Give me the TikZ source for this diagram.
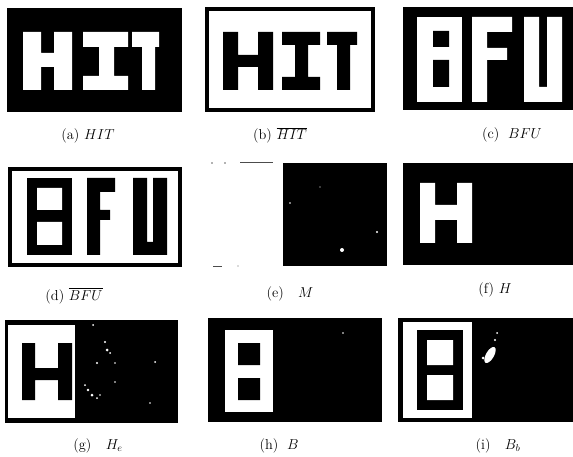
\documentclass[tikz,border=0pt]{standalone}
\usepackage{amsmath,amssymb}
\usepackage{tikz}
\usetikzlibrary{positioning}

\begin{document}
\begin{tikzpicture}[x=1pt,y=-1pt,
    ink/.style={fill=black},
    paper/.style={fill=white},
    frame/.style={draw=black, line width=3.5pt, fill=white},
    speck/.style={fill=white},
    caption/.style={font=\Large, inner sep=0pt, anchor=base}
  ]
  \useasboundingbox[fill=white] (0,0) rectangle (573,457);

  % (a) HIT, white on black
  \fill[ink] (7,8) rectangle (182,112);
  \fill[paper] (23,32) rectangle (41,90) (54,32) rectangle (72,90) (41,53) rectangle (54,67);
  \fill[paper] (83,32) rectangle (128,47) (83,76) rectangle (128,90) (99,47) rectangle (114,76);
  \fill[paper] (132,32) rectangle (159,47) (142,47) rectangle (155,90);
  \node[caption] (capa) at (88,140) {(a) $HIT$};

  % (b) complement of HIT
  \draw[frame] (207,9) rectangle (373,110);
  \fill[ink] (223,32) rectangle (238,90) (258,32) rectangle (273,90) (238,55) rectangle (258,67);
  \fill[ink] (282,32) rectangle (320,45) (282,77) rectangle (320,90) (295,45) rectangle (308,77);
  \fill[ink] (327,32) rectangle (357,45) (337,45) rectangle (350,90);
  \node[caption] (capb) at (280,140) {(b) $\overline{HIT}$};

  % (c) BFU, white on black
  \fill[ink] (403,7) rectangle (573,110);
  \fill[paper] (417,17) rectangle (462,102);
  \fill[ink] (433,31) rectangle (449,47) (433,60) rectangle (449,87);
  \fill[paper] (472,17) rectangle (487,102) (487,17) rectangle (512,32) (487,48) rectangle (507,60);
  \fill[paper] (524,17) rectangle (539,102) (547,17) rectangle (562,102) (539,87) rectangle (547,102);
  \node[caption] (capc) at (512,139) {(c)\; $BFU$};

  % (d) complement of BFU
  \draw[frame] (10,169) rectangle (180,265);
  \fill[ink] (27,178) rectangle (72,255);
  \fill[paper] (37,188) rectangle (62,210) (37,222) rectangle (62,245);
  \fill[ink] (87,178) rectangle (100,255) (100,178) rectangle (115,192) (100,210) rectangle (110,220);
  \fill[ink] (133,178) rectangle (147,255) (153,178) rectangle (167,255) (147,242) rectangle (153,255);
  \node[caption] (capd) at (74,300) {(d) $\overline{BFU}$};

  % (e) M
  \fill[ink] (283,163) rectangle (387,266);
  \draw[black!70, line width=1pt] (240,163) -- (273,163) (213,266) -- (222,266);
  \fill[black!60] (212,163) circle (0.8) (225,163) circle (0.8) (238,266) circle (0.6);
  \fill[speck] (342,250) circle (2) (377,232) circle (1.2) (290,203) circle (0.8) (320,187) circle (0.6);
  \node[caption] (cape) at (290,297) {(e)\quad $M$};

  % (f) H
  \fill[ink] (403,163) rectangle (573,265);
  \fill[paper] (420,183) rectangle (435,243) (457,183) rectangle (472,243) (435,205) rectangle (457,220);
  \fill[ink] (442,195) circle (0.8);
  \node[caption] (capf) at (495,293) {(f) $H$};

  % (g) H_e
  \fill[ink] (5,320) rectangle (178,423);
  \fill[paper] (8,325) rectangle (75,418);
  \fill[ink] (22,343) rectangle (35,400) (58,343) rectangle (72,400) (35,368) rectangle (58,380);
  \fill[speck] (93,325) circle (1) (105,342) circle (1.2) (107,350) circle (1.5) (110,353) circle (1)
              (97,363) circle (1.2) (115,363) circle (0.8) (155,362) circle (1) (115,382) circle (0.8)
              (88,390) circle (1.3) (92,395) circle (1.5) (97,398) circle (1) (100,395) circle (0.8)
              (150,403) circle (0.8) (85,385) circle (1);
  \node[caption] (capg) at (98,449) {(g)\quad $H_e$};

  % (h) B
  \fill[ink] (208,318) rectangle (382,422);
  \fill[paper] (225,330) rectangle (273,412);
  \fill[ink] (238,343) rectangle (260,365) (238,378) rectangle (260,400);
  \fill[speck] (343,333) circle (0.8);
  \node[caption] (caph) at (279,449) {(h)\; $B$};

  % (i) B_b
  \fill[ink] (398,318) rectangle (573,422);
  \fill[paper] (403,322) rectangle (472,418);
  \fill[ink] (417,330) rectangle (463,410);
  \fill[paper] (427,340) rectangle (453,365) (427,375) rectangle (453,400);
  \fill[speck, rotate around={-30:(490,355)}] (490,355) ellipse (4 and 9);
  \fill[speck] (497,333) circle (1) (495,340) circle (1.2) (483,358) circle (1.5);
  \node[caption] (capi) at (498,449) {(i)\quad $B_b$};
\end{tikzpicture}
\end{document}
